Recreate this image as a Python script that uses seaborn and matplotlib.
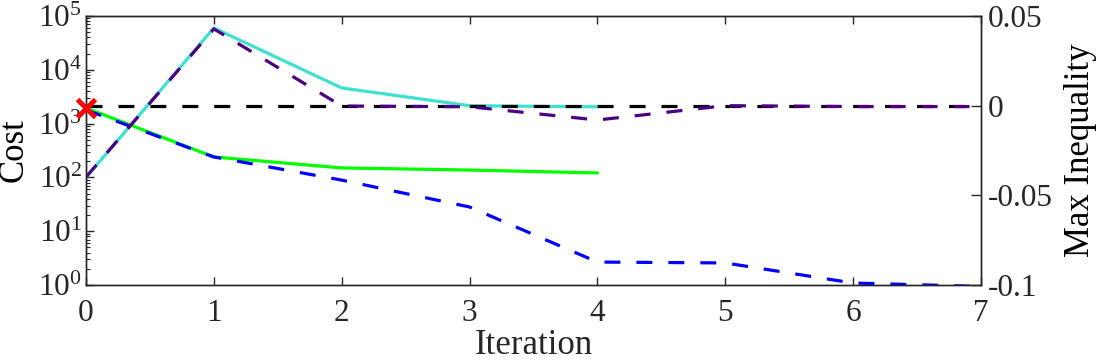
import numpy as np
import pandas as pd
import matplotlib
matplotlib.use("Agg")
import matplotlib.pyplot as plt
import matplotlib.ticker as mticker
import seaborn as sns

# ---- data ----
iters_a = [0, 1, 2, 3, 4]
cost_green = [1950, 240, 150, 137, 121]
cost_cyan = [100, 60000, 4600, 2150, 2050]

iters_b = [0, 1, 2, 3, 4, 5, 6, 7]
ineq_blue = [-0.0024, -0.0286, -0.0415, -0.0565, -0.0872, -0.0877, -0.0989, -0.1008]
ineq_purple = [-0.0398, 0.0428, -0.0002, -0.0006, -0.0080, 0.0, -0.0005, -0.0005]

zero_line_x = [0, 7]
zero_line_y = [0.0, 0.0]
initial_cost = 1950

xticks = [0, 1, 2, 3, 4, 5, 6, 7]
right_ticks = [0.05, 0, -0.05, -0.1]
right_ticklabels = ["0.05", "0", "-0.05", "-0.1"]

# ---- style ----
sns.set_theme(style="ticks")
plt.rcParams["font.family"] = ["Liberation Serif", "DejaVu Serif"]
plt.rcParams["mathtext.fontset"] = "custom"
plt.rcParams["mathtext.rm"] = "Liberation Serif"
plt.rcParams["mathtext.it"] = "Liberation Serif:italic"
plt.rcParams["axes.unicode_minus"] = False

dark = "#262626"
fig = plt.figure(figsize=(10.99, 3.63), dpi=100)
ax1 = fig.add_axes([86 / 1099, 78 / 363, 895 / 1099, 269 / 363])
ax2 = ax1.twinx()

lw = 2.3
dash = (0, (5.0, 5.0))

# left axis: cost (solid)
sns.lineplot(x=iters_a, y=cost_green, ax=ax1, color="#00FF00", lw=lw, estimator=None, sort=False)
sns.lineplot(x=iters_a, y=cost_cyan, ax=ax1, color="#40E0D0", lw=lw, estimator=None, sort=False)

# right axis: max inequality (dashed)
sns.lineplot(x=zero_line_x, y=zero_line_y, ax=ax2, color="black", lw=lw, linestyle=dash, estimator=None)
sns.lineplot(x=iters_b, y=ineq_blue, ax=ax2, color="#0000FF", lw=lw, linestyle=dash, estimator=None, sort=False)
sns.lineplot(x=iters_b, y=ineq_purple, ax=ax2, color="#4B0082", lw=lw, linestyle=dash, estimator=None, sort=False)

ax1.set_yscale("log")
ax1.set_ylim(1, 1e5)
ax1.set_xlim(0, 7)
ax2.set_ylim(-0.1, 0.05)
ax2.set_xlim(0, 7)

# initial cost marker (on the left-axis scale, drawn on top)
ax2.plot([0], [initial_cost], transform=ax1.transData, marker="x", color="red",
         markersize=13, mew=3.5, linestyle="none", clip_on=False, zorder=10)
ax2.set_ylim(-0.1, 0.05)

# ticks
ax1.set_xticks(xticks)
ax1.yaxis.set_major_locator(mticker.LogLocator(base=10, numticks=10))
ax1.yaxis.set_minor_locator(mticker.LogLocator(base=10, subs=np.arange(2, 10), numticks=20))
ax1.yaxis.set_major_formatter(mticker.LogFormatterSciNotation())
ax1.tick_params(axis="both", which="major", direction="in", length=6, width=1,
                color=dark, labelcolor=dark, labelsize=22.5)
ax1.tick_params(axis="x", top=True, pad=10)
ax1.tick_params(axis="y", which="major", right=False, pad=3)
ax1.tick_params(axis="y", which="minor", direction="in", length=3, width=0.8, color=dark, right=False)
ax1.tick_params(axis="x", which="minor", bottom=False, top=False)

ax2.set_yticks(right_ticks)
ax2.set_yticklabels(right_ticklabels)
ax2.tick_params(axis="y", direction="in", length=7, width=1, color=dark, labelcolor=dark,
                labelsize=22.5, pad=5)

for ax in (ax1, ax2):
    for s in ax.spines.values():
        s.set_visible(True)
        s.set_color(dark)
        s.set_linewidth(1.0)

ax1.set_xlabel("Iteration", fontsize=25, color=dark, labelpad=1)
ax1.set_ylabel("Cost", fontsize=25, color="black", labelpad=5)
ax2.set_ylabel("Max Inequality", fontsize=25, color="black", labelpad=8)

fig.savefig("out.png", dpi=100)
